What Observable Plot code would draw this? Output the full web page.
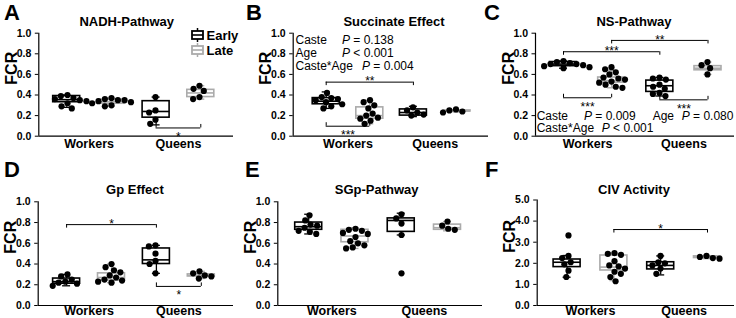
<!DOCTYPE html>
<html><head><meta charset="utf-8">
<script src="https://cdn.jsdelivr.net/npm/d3@7"></script>
<script src="https://cdn.jsdelivr.net/npm/@observablehq/plot@0.6"></script>
<style>
body{margin:0;background:#fff}
#fig{position:relative;width:736px;height:318px;overflow:hidden;font-family:"Liberation Sans",Arial,sans-serif;color:#000;background:#fff}
#fig svg{position:absolute;overflow:visible}
.t{position:absolute;white-space:nowrap;line-height:1}
</style></head><body><div id="fig"></div>
<script>
// ---------- data ----------
const castes = ["Workers", "Queens"];
const ages = ["Early", "Late"];
// group order: Workers-Early, Workers-Late, Queens-Early, Queens-Late
const groupCaste = [0, 0, 1, 1];
const groupAge = [0, 1, 0, 1];
const letters = ["A", "B", "C", "D", "E", "F"];
const titles = ["NADH-Pathway", "Succinate Effect", "NS-Pathway", "Gp Effect", "SGp-Pathway", "CIV Activity"];
const yTicksRatio = [0, 0.2, 0.4, 0.6, 0.8, 1.0];
const yTicksCIV = [0, 1, 2, 3, 4, 5];

// boxes: [lower whisker, Q1, median, Q3, upper whisker]
const nadhPoints = [
  [0.40, 0.39, 0.37, 0.36, 0.35, 0.34, 0.32, 0.29, 0.27],
  [0.37, 0.36, 0.35, 0.35, 0.34, 0.33, 0.32, 0.30, 0.29],
  [0.38, 0.25, 0.23, 0.16, 0.12],
  [0.49, 0.46, 0.44, 0.38, 0.36]];
const nadhBoxes = [[0.28, 0.33, 0.355, 0.39, 0.40], [0.29, 0.315, 0.335, 0.355, 0.37], [0.11, 0.18, 0.24, 0.34, 0.38], [0.36, 0.38, 0.42, 0.45, 0.49]];
const nadhBrackets = [{from: 2, to: 3, y: 0.08, side: -1, label: "*"}];

const succPoints = [
  [0.42, 0.38, 0.37, 0.36, 0.35, 0.33, 0.31, 0.29, 0.27],
  [0.35, 0.33, 0.30, 0.27, 0.22, 0.20, 0.18, 0.17, 0.15, 0.12],
  [0.28, 0.25, 0.23, 0.21, 0.20],
  [0.26, 0.25, 0.24, 0.23]];
const succBoxes = [[0.27, 0.31, 0.34, 0.37, 0.43], [0.12, 0.17, 0.20, 0.28, 0.35], [0.19, 0.20, 0.23, 0.26, 0.29], [0.235, 0.24, 0.245, 0.25, 0.255]];
const succBrackets = [{from: 0, to: 2, y: 0.525, side: 1, label: "**"}, {from: 0, to: 1, y: 0.097, side: -1, label: "***"}];
const succStats = [["Caste", "= 0.138"], ["Age", "< 0.001"], ["Caste*Age", "= 0.004"]];

const nsPoints = [
  [0.73, 0.72, 0.71, 0.70, 0.70, 0.69, 0.68, 0.67, 0.66],
  [0.67, 0.65, 0.62, 0.60, 0.57, 0.56, 0.55, 0.53, 0.52, 0.50, 0.48, 0.47],
  [0.57, 0.56, 0.55, 0.50, 0.48, 0.46, 0.42, 0.41, 0.39],
  [0.72, 0.69, 0.66, 0.60]];
const nsBoxes = [[0.66, 0.68, 0.70, 0.72, 0.73], [0.47, 0.52, 0.54, 0.57, 0.64], [0.39, 0.43, 0.49, 0.54, 0.57], [0.60, 0.64, 0.66, 0.68, 0.72]];
const nsBrackets = [
  {from: 1, to: 3, y: 0.93, side: 1, label: "**"},
  {from: 0, to: 2, y: 0.82, side: 1, label: "***"},
  {from: 0, to: 1, y: 0.373, side: -1, label: "***"},
  {from: 2, to: 3, y: 0.353, side: -1, label: "***"}];
const nsStats = [["Caste", "= 0.009"], ["Age", "= 0.080"], ["Caste*Age", "< 0.001"]];

const gpPoints = [
  [0.30, 0.28, 0.25, 0.23, 0.22, 0.21, 0.19],
  [0.40, 0.37, 0.34, 0.32, 0.29, 0.27, 0.25, 0.24, 0.23, 0.22],
  [0.58, 0.57, 0.50, 0.43, 0.40, 0.31],
  [0.33, 0.31, 0.29, 0.28, 0.26]];
const gpBoxes = [[0.19, 0.21, 0.23, 0.26, 0.30], [0.22, 0.24, 0.27, 0.31, 0.40], [0.31, 0.40, 0.44, 0.55, 0.58], [0.26, 0.28, 0.29, 0.30, 0.33]];
const gpBrackets = [{from: 0, to: 2, y: 0.78, side: 1, label: "*"}, {from: 2, to: 3, y: 0.184, side: -1, label: "*"}];

const sgpPoints = [
  [0.87, 0.82, 0.78, 0.77, 0.75, 0.72, 0.71, 0.69],
  [0.74, 0.73, 0.72, 0.70, 0.69, 0.66, 0.62, 0.60, 0.58, 0.56, 0.55],
  [0.88, 0.84, 0.79, 0.68, 0.31],
  [0.81, 0.77, 0.74, 0.73]];
const sgpBoxes = [[0.69, 0.73, 0.76, 0.80, 0.88], [0.55, 0.61, 0.67, 0.73, 0.75], [0.68, 0.71, 0.82, 0.84, 0.89], [0.72, 0.73, 0.75, 0.78, 0.81]];
const sgpBrackets = [];

const civPoints = [
  [3.32, 2.35, 2.25, 2.05, 1.95, 1.65, 1.35],
  [2.48, 2.45, 2.40, 2.10, 1.90, 1.85, 1.75, 1.60, 1.50, 1.35, 1.15],
  [2.35, 2.05, 2.00, 1.90, 1.75, 1.50],
  [2.35, 2.30, 2.25, 2.22]];
const civBoxes = [[1.34, 1.82, 2.05, 2.18, 2.37], [1.18, 1.66, 1.82, 2.37, 2.50], [1.45, 1.71, 1.90, 2.05, 2.35], [2.22, 2.25, 2.30, 2.33, 2.36]];
const civBrackets = [{from: 1, to: 3, y: 3.6, side: 1, label: "*"}];

// ---------- layout ----------
const FONT = '"Liberation Sans", Arial, sans-serif';
const colors = ["#000000", "#ababab"];
const layouts = [
  {left: 0, top: 0, width: 245, height: 155, axisX: 38.3, rightX: 233, c0: 66.2, c3: 200.3, yTop: 32.7, yBot: 135.7, pad: 3, title: [126.7, 26.2], letter: [4, 21]},
  {left: 245, top: 0, width: 245, height: 155, axisX: 292.7, rightX: 488, c0: 325.7, c3: 456.5, yTop: 32.7, yBot: 135.7, pad: 3, title: [394, 26.2], letter: [246, 21]},
  {left: 490, top: 0, width: 246, height: 155, axisX: 535, rightX: 734, c0: 563, c3: 707.5, yTop: 32.7, yBot: 135.7, pad: 3, title: [634, 25.7], letter: [484, 21]},
  {left: 0, top: 155, width: 245, height: 163, axisX: 37.7, rightX: 233, c0: 66.1, c3: 200.8, yTop: 201.3, yBot: 305, pad: 1, title: [135, 194.5], letter: [4, 178]},
  {left: 245, top: 155, width: 245, height: 163, axisX: 277.3, rightX: 482, c0: 308.2, c3: 447, yTop: 201.3, yBot: 305, pad: 1, title: [376.7, 194.5], letter: [245, 178]},
  {left: 490, top: 155, width: 246, height: 163, axisX: 536.7, rightX: 734, c0: 566.6, c3: 707, yTop: 199.5, yBot: 305, pad: 1, title: [634, 194.5], letter: [485, 178]}];

const fig = document.getElementById("fig");
function txt(html, x, base, size, opts = {}) {
  const d = document.createElement("div");
  d.className = "t";
  d.innerHTML = html;
  d.style.fontSize = size + "px";
  d.style.left = x + "px";
  d.style.top = (base - 0.8465 * size) + "px";
  if (opts.bold) d.style.fontWeight = "bold";
  if (opts.center) d.style.transform = "translateX(-50%)";
  if (opts.color) d.style.color = opts.color;
  fig.appendChild(d);
  return d;
}

function drawPanel(L, points, boxes, brackets, yTicks, ymax) {
  const u = (L.c3 - L.c0) / 1.5, zero = L.c0 + 0.25 * u;
  const xdom = [(L.axisX - zero) / u, (L.rightX - zero) / u];
  const pos = groupCaste.map((c, i) => c + (groupAge[i] === 0 ? -0.25 : 0.25));
  const mt = L.yTop - L.top, mb = L.top + L.height - L.yBot;
  const hw = 13.5 / u, cw = 4 / u;
  const stats = boxes.map((b, i) => ({pos: pos[i], age: ages[groupAge[i]], lo: b[0], q1: b[1], med: b[2], q3: b[3], hi: b[4]}));
  const tick = 3.5 * ymax / (L.yBot - L.yTop);
  const br = brackets.map(b => ({x1: pos[b.from], x2: pos[b.to], mid: (pos[b.from] + pos[b.to]) / 2, y: b.y, yt: b.y - b.side * tick, side: b.side, label: b.label}));
  const style = {background: "transparent", overflow: "visible", fontFamily: FONT, color: "#000"};
  const base = Plot.plot({
    width: L.width, height: L.height, marginTop: mt, marginBottom: mb,
    marginLeft: L.axisX - L.left, marginRight: L.left + L.width - L.rightX,
    style,
    x: {domain: xdom}, y: {domain: [0, ymax]},
    color: {domain: ages, range: colors},
    marks: [
      Plot.ruleX(stats, {x: "pos", y1: "lo", y2: "hi", stroke: "age", strokeWidth: 1.3}),
      Plot.rect(stats, {x1: d => d.pos - hw, x2: d => d.pos + hw, y1: "q1", y2: "q3", fill: "white", stroke: "age", strokeWidth: 1.6}),
      Plot.ruleY(stats, {y: "med", x1: d => d.pos - hw, x2: d => d.pos + hw, stroke: "age", strokeWidth: 1.6}),
      Plot.ruleY(stats, {y: "hi", x1: d => d.pos - cw, x2: d => d.pos + cw, stroke: "age", strokeWidth: 1.3}),
      Plot.ruleY(stats, {y: "lo", x1: d => d.pos - cw, x2: d => d.pos + cw, stroke: "age", strokeWidth: 1.3}),
      Plot.ruleY(br, {y: "y", x1: "x1", x2: "x2", stroke: "#000", strokeWidth: 1}),
      Plot.ruleX(br, {x: "x1", y1: "y", y2: "yt", stroke: "#000", strokeWidth: 1}),
      Plot.ruleX(br, {x: "x2", y1: "y", y2: "yt", stroke: "#000", strokeWidth: 1}),
      Plot.text(br.filter(b => b.side > 0), {x: "mid", y: "y", text: "label", dy: -0.5, fontSize: 12, fill: "#000"}),
      Plot.text(br.filter(b => b.side < 0), {x: "mid", y: "y", text: "label", dy: 9.2, fontSize: 12, fill: "#000"}),
      Plot.ruleX([xdom[0]], {stroke: "#000", strokeWidth: 1.2}),
      Plot.ruleY([0], {stroke: "#000", strokeWidth: 1.2}),
      Plot.axisY({ticks: yTicks, tickFormat: d3.format(".1f"), tickSize: 3.5, tickPadding: 4, fontSize: 10.5, fontWeight: "bold", label: null}),
      Plot.axisX({ticks: [0, 1], tickFormat: i => castes[i], tickSize: 0, tickPadding: L.pad, fontSize: 12.5, fontWeight: "bold", label: null}),
      Plot.text(["FCR"], {frameAnchor: "left", rotate: -90, dx: -27, fontSize: 16, fontWeight: "bold", fill: "#000"})
    ]
  });
  base.style.left = L.left + "px";
  base.style.top = L.top + "px";
  fig.appendChild(base);

  const oml = (zero - 0.5 * u) - L.left, omr = L.left + L.width - (zero + 1.5 * u);
  const dots = points.flatMap((arr, i) => arr.map(v => ({g: i, v})));
  const over = Plot.plot({
    width: L.width, height: L.height, marginTop: mt, marginBottom: mb,
    marginLeft: oml, marginRight: omr, style,
    fx: {domain: [0, 1, 2, 3], padding: 0, axis: null},
    y: {domain: [0, ymax], axis: null},
    marks: [Plot.dot(dots, Plot.dodgeX({anchor: "middle", padding: 0.5}, {fx: "g", y: "v", r: 3.1, fill: "#000"}))]
  });
  over.style.left = L.left + "px";
  over.style.top = L.top + "px";
  fig.appendChild(over);
}

drawPanel(layouts[0], nadhPoints, nadhBoxes, nadhBrackets, yTicksRatio, 1);
drawPanel(layouts[1], succPoints, succBoxes, succBrackets, yTicksRatio, 1);
drawPanel(layouts[2], nsPoints, nsBoxes, nsBrackets, yTicksRatio, 1);
drawPanel(layouts[3], gpPoints, gpBoxes, gpBrackets, yTicksRatio, 1);
drawPanel(layouts[4], sgpPoints, sgpBoxes, sgpBrackets, yTicksRatio, 1);
drawPanel(layouts[5], civPoints, civBoxes, civBrackets, yTicksCIV, 5);

// titles and panel letters
layouts.forEach((L, i) => {
  txt(titles[i], L.title[0], L.title[1], 13, {bold: true, center: true});
  txt(letters[i], L.letter[0], L.letter[1], 22, {bold: true});
});

// legend (panel A)
function glyph(x, cy, color) {
  const s = document.createElementNS("http://www.w3.org/2000/svg", "svg");
  s.setAttribute("width", 13); s.setAttribute("height", 14);
  s.style.left = x + "px"; s.style.top = (cy - 7) + "px";
  s.innerHTML = `<line x1="6.5" x2="6.5" y1="0" y2="14" stroke="${color}" stroke-width="1.5"/>
    <rect x="1" y="3" width="11" height="8" fill="white" stroke="${color}" stroke-width="1.8"/>
    <line x1="1" x2="12" y1="7" y2="7" stroke="${color}" stroke-width="1.6"/>`;
  fig.appendChild(s);
}
ages.forEach((a, i) => {
  const cy = 35 + i * 15;
  glyph(191, cy, colors[i]);
  txt(a, 206.5, cy + 4.6, 13, {bold: true});
});

// statistics annotations
const succPos = [[295.5, 342, 44.3], [295.5, 342, 57.3], [295.5, 362, 70.3]];
succStats.forEach((s, i) => {
  txt(s[0], succPos[i][0], succPos[i][2], 12);
  txt("<i>P</i> " + s[1], succPos[i][1], succPos[i][2], 12);
});
const nsPos = [[536.7, 584, 120.3], [652.7, 681.7, 120.3], [536.7, 601.7, 131.9]];
nsStats.forEach((s, i) => {
  txt(s[0], nsPos[i][0], nsPos[i][2], 12);
  txt("<i>P</i> " + s[1], nsPos[i][1], nsPos[i][2], 12);
});
</script></body></html>
